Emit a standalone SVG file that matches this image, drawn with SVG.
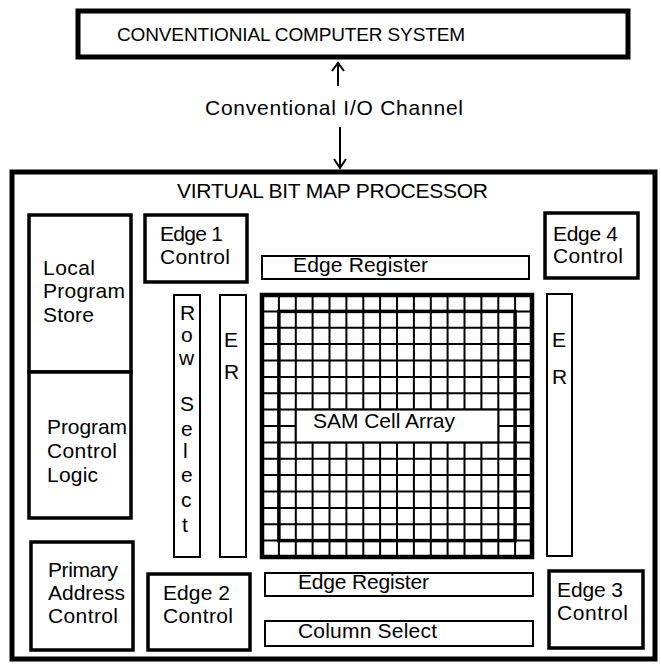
<svg xmlns="http://www.w3.org/2000/svg" width="661" height="665" viewBox="0 0 661 665">
  <style>
    text { font-family: "Liberation Sans", Arial, Helvetica, sans-serif; font-size: 21px; fill: #000; }
    .title { font-size: 19px; }
    .heavy { fill: #fff; stroke: #000; stroke-width: 5; }
    .box { fill: #fff; stroke: #000; stroke-width: 3.5; }
    .bar { fill: #fff; stroke: #000; stroke-width: 2; }
    .grid { fill: none; stroke: #000; stroke-width: 2; }
    .conn { fill: none; stroke: #000; stroke-width: 2; }
  </style>
  <rect width="661" height="665" fill="#fff"/>

  <!-- host system -->
  <g id="host">
    <rect class="heavy" x="78" y="11" width="550" height="46"/>
    <text class="title" x="117" y="41" textLength="348">CONVENTIONIAL COMPUTER SYSTEM</text>
  </g>

  <!-- I/O channel between host and processor -->
  <g id="connectors">
    <path class="conn" d="M338 86V64M332 71L338 63L344 71"/>
    <path class="conn" d="M340 127V167M334 159L340 168L346 159"/>
    <text x="205" y="115" font-size="20.5" textLength="258">Conventional I/O Channel</text>
  </g>

  <!-- processor enclosure -->
  <g id="processor">
    <rect class="heavy" x="12" y="172" width="643" height="487"/>
    <text x="177" y="198" font-size="20" textLength="311">VIRTUAL BIT MAP PROCESSOR</text>
  </g>

  <!-- program store / control logic column -->
  <g id="program-store">
    <rect class="box" x="29" y="215" width="102" height="157"/>
    <text x="43" y="275" textLength="52">Local</text>
    <text x="43" y="298" textLength="82">Program</text>
    <text x="43" y="322" textLength="51">Store</text>
  </g>
  <g id="program-control">
    <rect class="box" x="29" y="372" width="102" height="146"/>
    <text x="47" y="434" textLength="80">Program</text>
    <text x="47" y="458" textLength="70">Control</text>
    <text x="47" y="482" textLength="51">Logic</text>
  </g>
  <g id="address-control">
    <rect class="box" x="31" y="542" width="102" height="108"/>
    <text x="48" y="577" textLength="70">Primary</text>
    <text x="48" y="600" textLength="77">Address</text>
    <text x="48" y="623" textLength="70">Control</text>
  </g>

  <!-- edge controllers -->
  <g id="edge1">
    <rect class="box" x="145" y="215" width="102" height="67"/>
    <text x="160" y="241" textLength="63">Edge 1</text>
    <text x="160" y="264" textLength="70">Control</text>
  </g>
  <g id="edge4">
    <rect class="box" x="545" y="213" width="93" height="65"/>
    <text x="553" y="241" textLength="65">Edge 4</text>
    <text x="553" y="263" textLength="70">Control</text>
  </g>
  <g id="edge2">
    <rect class="box" x="148" y="574" width="102" height="76"/>
    <text x="163" y="600" textLength="67">Edge 2</text>
    <text x="163" y="623" textLength="70">Control</text>
  </g>
  <g id="edge3">
    <rect class="box" x="549" y="571" width="94" height="77"/>
    <text x="557" y="597" textLength="66">Edge 3</text>
    <text x="557" y="620" textLength="71">Control</text>
  </g>

  <!-- registers and selectors -->
  <g id="edge-register-top">
    <rect class="bar" x="262" y="256" width="267" height="23"/>
    <text x="293" y="272" textLength="135">Edge Register</text>
  </g>
  <g id="edge-register-bottom">
    <rect class="bar" x="265" y="573" width="268" height="23"/>
    <text x="298" y="589" textLength="131">Edge Register</text>
  </g>
  <g id="column-select">
    <rect class="bar" x="265" y="621" width="268" height="25"/>
    <text x="298" y="638" textLength="139">Column Select</text>
  </g>
  <g id="row-select">
    <rect class="bar" x="174" y="295" width="26" height="262"/>
    <text x="180" y="320">R</text>
    <text x="181" y="342">o</text>
    <text x="179" y="365">w</text>
    <text x="180" y="411">S</text>
    <text x="181" y="436">e</text>
    <text x="183" y="458">l</text>
    <text x="181" y="482">e</text>
    <text x="181" y="507">c</text>
    <text x="182" y="532">t</text>
  </g>
  <g id="er-left">
    <rect class="bar" x="220" y="295" width="26" height="262"/>
    <text x="224" y="347">E</text>
    <text x="224" y="379">R</text>
  </g>
  <g id="er-right">
    <rect class="bar" x="547" y="294" width="25" height="262"/>
    <text x="552" y="347">E</text>
    <text x="552" y="384">R</text>
  </g>

  <!-- 16 x 16 cell array -->
  <g id="cell-array">
    <path class="grid" d="M278.9 295V557M295.8 295V557M312.6 295V557M329.5 295V557M346.4 295V557M363.3 295V557M380.1 295V557M397 295V557M413.9 295V557M430.8 295V557M447.6 295V557M464.5 295V557M481.4 295V557M498.3 295V557M515.1 295V557"/>
    <path class="grid" d="M262 311.4H532M262 327.8H532M262 344.1H532M262 360.5H532M262 376.9H532M262 393.3H532M262 409.6H532M262 426H532M262 442.4H532M262 458.8H532M262 475.1H532M262 491.5H532M262 507.9H532M262 524.3H532M262 540.6H532"/>
    <rect x="262" y="295" width="270" height="262" fill="none" stroke="#000" stroke-width="4.5"/>
    <rect x="278.9" y="311.4" width="236.2" height="229.2" fill="none" stroke="#000" stroke-width="3.5"/>
    <rect class="bar" x="295.8" y="409.6" width="202.5" height="32.8"/>
    <text x="313" y="428" textLength="142">SAM Cell Array</text>
  </g>
</svg>
